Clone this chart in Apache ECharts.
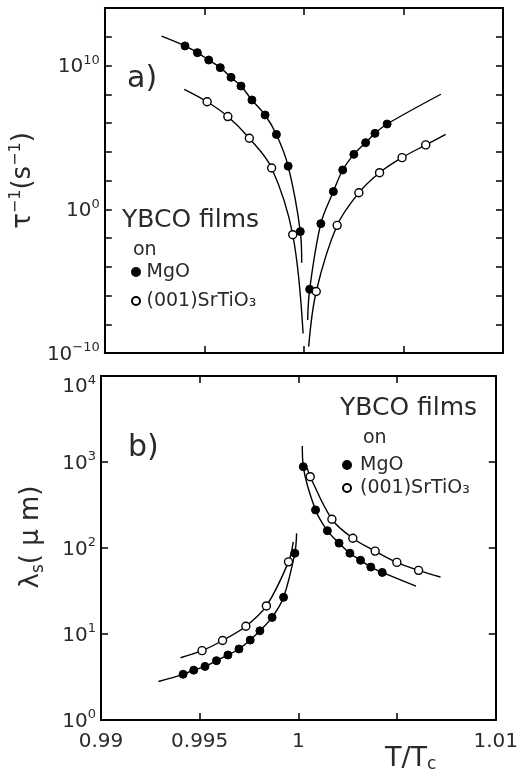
<!DOCTYPE html>
<html lang="en">
<head>
<meta charset="UTF-8">
<title>YBCO films</title>
<script src="https://cdn.jsdelivr.net/npm/echarts@6/dist/echarts.min.js"></script>
<style>
    html, body { margin: 0; padding: 0; background: #fff; }
    #main { width: 521px; height: 773px; }
</style>
</head>
<body>
<div id="main"></div>
<script>
    // ---- panel a) tau^-1 (s^-1) ----
    var aMgOX = [0.99403, 0.99465, 0.99522, 0.99580, 0.99634, 0.99684, 0.99739, 0.99805, 0.99862, 0.99921, 0.99982,
                 1.00029, 1.00085, 1.00148, 1.00195, 1.00251, 1.00310, 1.00357, 1.00418];
    var aMgOY = [2.3e11, 7.8e10, 2.4e10, 7.1e9, 1.5e9, 3.7e8, 4.0e7, 3.6e6, 1.6e5, 1.0e3, 2.8e-2,
                 2.7e-6, 0.10, 17, 540, 6.6e3, 4.3e4, 1.9e5, 8.5e5];
    var aSrX = [0.99514, 0.99618, 0.99726, 0.99838, 0.99944,
                1.00062, 1.00167, 1.00276, 1.00380, 1.00493, 1.00612];
    var aSrY = [3.0e7, 2.8e6, 8.7e4, 740, 1.7e-2,
                1.9e-6, 7.6e-2, 14, 350, 3.9e3, 3.0e4];
    // where the fitted curves start and stop
    var aMgOFitEnds = [[0.99285, 1.1e12], [0.99989, 1.9e-4], [1.00019, 2.0e-8], [1.00688, 1.0e8]];
    var aSrFitEnds = [[0.99399, 2.2e8], [0.99996, 2.3e-9], [1.00024, 2.8e-10], [1.00712, 1.6e5]];

    // ---- panel b) lambda_s (um) ----
    var bMgOX = [0.99416, 0.99470, 0.99527, 0.99585, 0.99643, 0.99699, 0.99756, 0.99805, 0.99867, 0.99925, 0.99982,
                 1.00025, 1.00087, 1.00147, 1.00206, 1.00261, 1.00315, 1.00367, 1.00425];
    var bMgOY = [3.4, 3.8, 4.2, 4.9, 5.7, 6.7, 8.5, 10.9, 15.6, 26.7, 87,
                 882, 277, 159, 114, 87, 72, 60, 52];
    var bSrX = [0.99512, 0.99616, 0.99734, 0.99838, 0.99950,
                1.00060, 1.00170, 1.00276, 1.00389, 1.00499, 1.00609];
    var bSrY = [6.4, 8.4, 12.3, 21.2, 69,
                675, 216, 130, 92, 68, 55];
    var bMgOFitEnds = [[0.99291, 2.8], [0.99991, 148], [1.00020, 1535], [1.00596, 36]];
    var bSrFitEnds = [[0.99403, 5.3], [0.99974, 118], [1.00045, 850], [1.00720, 46]];

    // ---- ticks ----
    var xTickLabels = ['0.99', '0.995', '1', '', '1.01'];
    var aYLabelExps = [-10, 0, 10];
    var bYLabelExps = [0, 1, 2, 3, 4];

    var FONT = "'DejaVu Sans', sans-serif";
    var TEXT = '#2a2a2a';

    function pairs(xs, ys) {
        return xs.map(function (x, i) { return [x, ys[i]]; });
    }
    // fitted branch = curve start, the measured points of that side, curve end
    function branch(xs, ys, ends, right) {
        var pts = pairs(xs, ys).filter(function (p) { return right ? p[0] > 1 : p[0] < 1; });
        var e = right ? ends.slice(2, 4) : ends.slice(0, 2);
        return [e[0]].concat(pts, [e[1]]);
    }
    // 10^n label; the label at the top corner sits a little below its tick
    function expLabel(value, shown, topExp) {
        var e = Math.round(Math.log(value) / Math.LN10);
        if (shown.indexOf(e) < 0) return '';
        var sfx = e === topExp ? 't' : '';
        return '{b' + sfx + '|10}{s|' + (e < 0 ? '\u2212' + (-e) : e) + '}';
    }

    var supRich = {
        b: { fontSize: 20, fontFamily: FONT, color: TEXT, verticalAlign: 'bottom' },
        bt: { fontSize: 20, fontFamily: FONT, color: TEXT, verticalAlign: 'bottom', padding: [22, 0, 0, 0] },
        s: { fontSize: 13, fontFamily: FONT, color: TEXT, verticalAlign: 'bottom', padding: [0, 0, 10, 0] }
    };
    var frameLine = { show: true, onZero: false, lineStyle: { color: '#000', width: 2 } };
    var tickIn = { show: true, inside: true, length: 7, lineStyle: { color: '#000', width: 1.5 } };

    function xAxis(grid, pos, labels) {
        return {
            type: 'value', gridIndex: grid, position: pos,
            min: 0.99, max: 1.01, interval: 0.005,
            axisLine: frameLine, axisTick: tickIn, splitLine: { show: false },
            axisLabel: {
                show: labels, margin: 12, fontSize: 20, fontFamily: FONT, color: TEXT,
                formatter: function (v, i) { return xTickLabels[i]; }
            }
        };
    }
    function yAxis(grid, pos, min, max, split, shown, topExp, extra) {
        var ax = {
            type: 'log', logBase: 10, gridIndex: grid, position: pos,
            min: min, max: max, splitNumber: split,
            axisLine: frameLine, axisTick: tickIn, splitLine: { show: false },
            axisLabel: {
                show: !!shown, margin: 5, rich: supRich,
                showMinLabel: true, showMaxLabel: true,
                formatter: function (v) { return expLabel(v, shown || [], topExp); }
            }
        };
        if (split === 12) ax.interval = 2;
        return Object.assign(ax, extra || {});
    }

    var filled = { color: '#000', borderColor: '#000', borderWidth: 1, opacity: 1 };
    var open = { color: '#fff', borderColor: '#000', borderWidth: 1.4, opacity: 1 };

    function dots(name, data, xi, yi, style) {
        return { name: name, type: 'scatter', xAxisIndex: xi, yAxisIndex: yi, symbol: 'circle',
                 symbolSize: 8, itemStyle: style, data: data, z: 4 };
    }
    function fit(data, xi, yi) {
        return { type: 'line', xAxisIndex: xi, yAxisIndex: yi, data: data, smooth: 0.35,
                 showSymbol: false, silent: true, lineStyle: { color: '#000', width: 1.4 }, z: 2 };
    }

    var legendText = { fontSize: 19, fontFamily: FONT, color: TEXT, lineHeight: 20 };

    var option = {
        backgroundColor: '#fff',
        animation: false,
        grid: [
            { left: 101, right: 18, top: 8, height: 345 },
            { left: 101, right: 18, top: 376, height: 344 }
        ],
        xAxis: [
            xAxis(0, 'bottom', false),
            xAxis(0, 'top', false),
            xAxis(1, 'bottom', true),
            xAxis(1, 'top', false)
        ],
        yAxis: [
            yAxis(0, 'left', 1e-10, 1e14, 12, aYLabelExps, null, {
                name: '{m|\u03c4}{p|\u22121}{m|(s}{p|\u22121}{m|)}',
                nameLocation: 'middle', nameRotate: 90, nameGap: 47,
                nameTextStyle: {
                    rich: {
                        m: { fontSize: 26, fontFamily: FONT, color: TEXT, verticalAlign: 'bottom' },
                        p: { fontSize: 16, fontFamily: FONT, color: TEXT, verticalAlign: 'bottom', padding: [0, 0, 12, 0] }
                    }
                }
            }),
            yAxis(0, 'right', 1e-10, 1e14, 12, null, null),
            yAxis(1, 'left', 1, 1e4, 4, bYLabelExps, 4, {
                name: '{m|\u03bb}{d|s}{m|( \u03bc m)}',
                nameLocation: 'middle', nameRotate: 90, nameGap: 54,
                nameTextStyle: {
                    padding: [0, 0, 0, 22],
                    rich: {
                        m: { fontSize: 26, fontFamily: FONT, color: TEXT, verticalAlign: 'top' },
                        d: { fontSize: 17, fontFamily: FONT, color: TEXT, verticalAlign: 'top', padding: [12, 0, 0, 0] }
                    }
                }
            }),
            yAxis(1, 'right', 1, 1e4, 4, null, null)
        ],
        legend: [
            { data: ['MgO', '(001)SrTiO\u2083'], orient: 'vertical', left: 131, top: 262, padding: 0,
              itemWidth: 11, itemHeight: 8, itemGap: 9, selectedMode: false, textStyle: legendText },
            { data: ['MgO', '(001)SrTiO\u2083'], orient: 'vertical', left: 342, top: 455, padding: 0,
              itemWidth: 16, itemHeight: 8, itemGap: 3, selectedMode: false, textStyle: legendText }
        ],
        graphic: [
            { type: 'text', left: 127, top: 64, style: { text: 'a)', fontSize: 30, fontFamily: FONT, fill: TEXT } },
            { type: 'text', left: 128, top: 433, style: { text: 'b)', fontSize: 30, fontFamily: FONT, fill: TEXT } },
            { type: 'text', left: 122, top: 208, style: { text: 'YBCO films', fontSize: 25, fontFamily: FONT, fill: TEXT } },
            { type: 'text', left: 133, top: 241, style: { text: 'on', fontSize: 19, fontFamily: FONT, fill: TEXT } },
            { type: 'text', left: 340, top: 396, style: { text: 'YBCO films', fontSize: 25, fontFamily: FONT, fill: TEXT } },
            { type: 'text', left: 363, top: 429, style: { text: 'on', fontSize: 19, fontFamily: FONT, fill: TEXT } },
            { type: 'text', left: 385, top: 745, style: {
                text: 'T/T{c|c}', fontSize: 27, fontFamily: FONT, fill: TEXT,
                rich: { c: { fontSize: 17, fontFamily: FONT, fill: TEXT, padding: [12, 0, 0, 0] } }
            } }
        ],
        series: [
            fit(branch(aMgOX, aMgOY, aMgOFitEnds, false), 0, 0),
            fit(branch(aMgOX, aMgOY, aMgOFitEnds, true), 0, 0),
            fit(branch(aSrX, aSrY, aSrFitEnds, false), 0, 0),
            fit(branch(aSrX, aSrY, aSrFitEnds, true), 0, 0),
            dots('MgO', pairs(aMgOX, aMgOY), 0, 0, filled),
            dots('(001)SrTiO\u2083', pairs(aSrX, aSrY), 0, 0, open),

            fit(branch(bMgOX, bMgOY, bMgOFitEnds, false), 2, 2),
            fit(branch(bMgOX, bMgOY, bMgOFitEnds, true), 2, 2),
            fit(branch(bSrX, bSrY, bSrFitEnds, false), 2, 2),
            fit(branch(bSrX, bSrY, bSrFitEnds, true), 2, 2),
            dots('MgO', pairs(bMgOX, bMgOY), 2, 2, filled),
            dots('(001)SrTiO\u2083', pairs(bSrX, bSrY), 2, 2, open)
        ]
    };

    var myChart = echarts.init(document.getElementById('main'));
    myChart.setOption(option);
</script>
</body>
</html>
